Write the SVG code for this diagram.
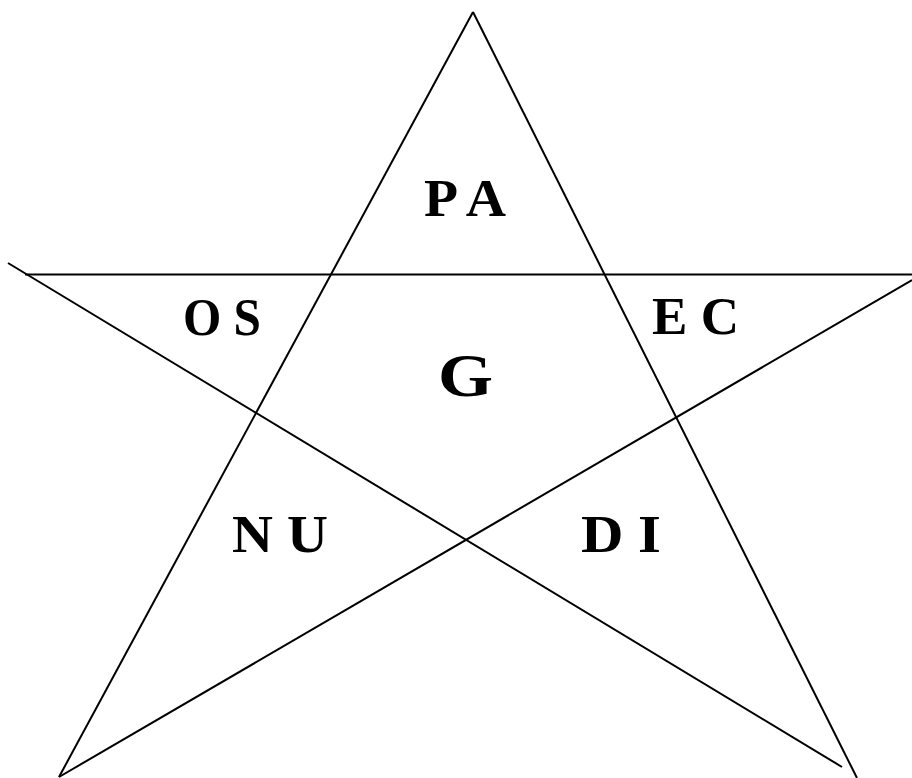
<svg xmlns="http://www.w3.org/2000/svg" width="912" height="778" viewBox="0 0 912 778">
<style>
.ln{stroke:#000;stroke-width:2;fill:none}
.t{font-family:"Liberation Serif","Times New Roman",serif;font-weight:bold;fill:#000;font-size:52px}
</style>
<rect width="912" height="778" fill="#fff"/>
<g id="connectors">
<line class="ln" x1="473" y1="12" x2="59" y2="777"/>
<line class="ln" x1="473" y1="12" x2="857" y2="778"/>
<line class="ln" x1="25" y1="274.5" x2="912" y2="274.5"/>
<line class="ln" x1="8" y1="263" x2="842" y2="767"/>
<line class="ln" x1="59" y1="777" x2="912" y2="280"/>
</g>
<g id="PA"><text class="t" x="424" y="216" textLength="82" lengthAdjust="spacingAndGlyphs">P A</text></g>
<g id="OS"><text class="t" x="183" y="335" textLength="78" lengthAdjust="spacingAndGlyphs">O S</text></g>
<g id="G"><text class="t" x="438" y="396" style="font-size:62px" textLength="55" lengthAdjust="spacingAndGlyphs">G</text></g>
<g id="EC"><text class="t" x="652" y="334" textLength="87" lengthAdjust="spacingAndGlyphs">E C</text></g>
<g id="NU"><text class="t" x="232" y="552" textLength="96" lengthAdjust="spacingAndGlyphs">N U</text></g>
<g id="DI"><text class="t" x="581" y="552" textLength="80" lengthAdjust="spacingAndGlyphs">D I</text></g>
</svg>
